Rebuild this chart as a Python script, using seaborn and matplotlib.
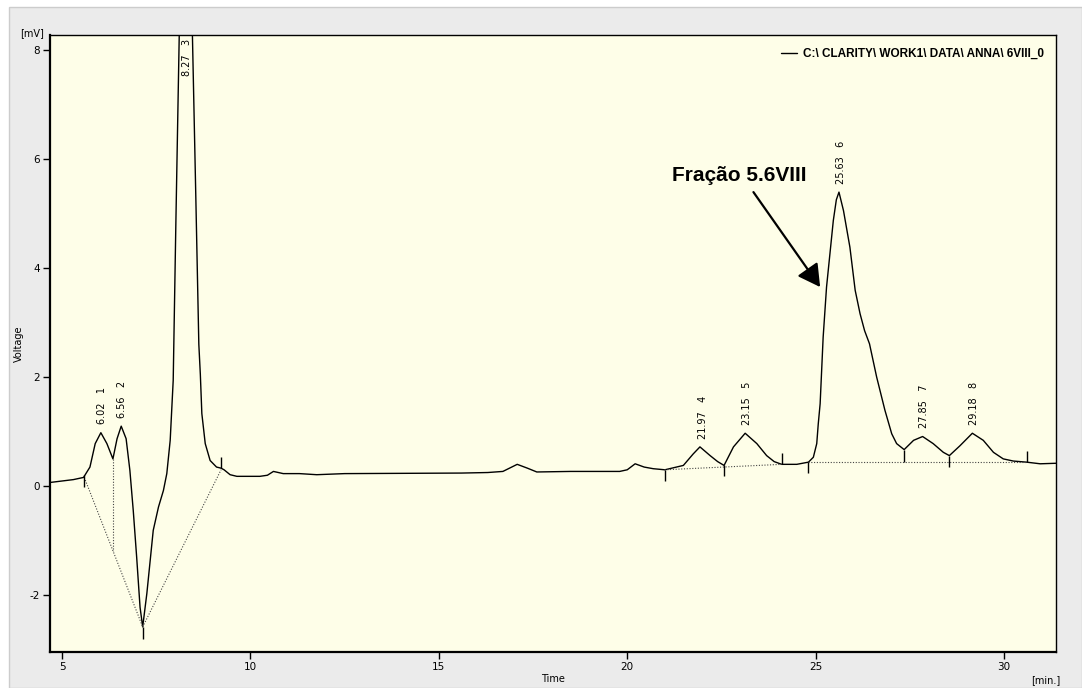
import numpy as np
import pandas as pd
import matplotlib
matplotlib.use("Agg")
import matplotlib.pyplot as plt
import seaborn as sns
from matplotlib.patches import Rectangle

# ---------------- data ----------------
time_min = [4.71, 5.30, 5.57, 5.74, 5.88, 6.03, 6.19, 6.35, 6.46, 6.57, 6.70, 6.80,
            6.89, 6.98, 7.07, 7.14, 7.25, 7.42, 7.56, 7.69, 7.78, 7.87, 7.95, 8.02,
            8.11, 8.27, 8.46, 8.55, 8.63, 8.67, 8.71, 8.80, 8.93, 9.10, 9.22, 9.30,
            9.46, 9.64, 10.25, 10.45, 10.61, 10.87, 11.30, 11.76, 12.50, 15.60,
            16.30, 16.70, 17.08, 17.35, 17.60, 18.50, 19.80, 20.00, 20.21, 20.45,
            20.69, 21.00, 21.49, 21.75, 21.93, 22.20, 22.40, 22.57, 22.82, 23.13,
            23.44, 23.70, 23.90, 24.10, 24.50, 24.81, 24.94, 25.03, 25.07, 25.12, 25.20,
            25.29, 25.38, 25.47, 25.55, 25.62, 25.74, 25.91, 26.05, 26.18, 26.30, 26.43,
            26.62, 26.84, 27.02, 27.15, 27.35, 27.60, 27.84, 28.12, 28.39, 28.55,
            28.83, 29.16, 29.45, 29.72, 29.98, 30.25, 30.60, 30.96, 31.40]
voltage_mv = [0.07, 0.12, 0.16, 0.35, 0.78, 0.98, 0.78, 0.50, 0.87, 1.10, 0.87, 0.29,
              -0.45, -1.30, -2.22, -2.58, -1.97, -0.81, -0.38, -0.08, 0.23, 0.84, 1.94, 4.80,
              8.26, 14.0, 8.26, 5.30, 2.60, 2.05, 1.33, 0.78, 0.47, 0.35, 0.33, 0.30,
              0.21, 0.18, 0.18, 0.20, 0.27, 0.23, 0.23, 0.21, 0.23, 0.24,
              0.25, 0.27, 0.40, 0.33, 0.26, 0.27, 0.27, 0.30, 0.41, 0.35,
              0.32, 0.30, 0.38, 0.59, 0.72, 0.56, 0.45, 0.38, 0.72, 0.97,
              0.78, 0.56, 0.45, 0.40, 0.40, 0.44, 0.53, 0.78, 1.14, 1.51, 2.73,
              3.65, 4.26, 4.87, 5.25, 5.39, 5.05, 4.38, 3.59, 3.16, 2.85, 2.61,
              2.00, 1.39, 0.96, 0.78, 0.67, 0.84, 0.91, 0.78, 0.62, 0.56,
              0.74, 0.97, 0.84, 0.62, 0.50, 0.46, 0.44, 0.41, 0.42]

peak_times = [6.02, 6.56, 8.27, 21.97, 23.15, 25.63, 27.85, 29.18]
peak_ids = [1, 2, 3, 4, 5, 6, 7, 8]
peak_heights = [0.98, 1.10, None, 0.72, 0.97, 5.39, 0.91, 0.97]

# integration baselines (dotted)
base_t0 = [5.59, 7.14, 6.35, 20.99, 24.81]
base_v0 = [0.16, -2.58, 0.50, 0.30, 0.44]
base_t1 = [7.14, 9.22, 6.35, 24.10, 30.60]
base_v1 = [-2.58, 0.30, -1.18, 0.40, 0.44]

# peak boundary markers
mark_t = [5.59, 7.14, 9.22, 20.99, 22.57, 24.10, 24.81, 27.35, 28.55, 30.60]
mark_v0 = [0.20, -2.58, 0.33, 0.30, 0.38, 0.40, 0.44, 0.67, 0.56, 0.44]
mark_v1 = [-0.02, -2.80, 0.53, 0.10, 0.18, 0.61, 0.24, 0.44, 0.35, 0.65]

x_ticks = [5, 10, 15, 20, 25, 30]
y_ticks = [-2, 0, 2, 4, 6, 8]
legend_label = "C:\\ CLARITY\\ WORK1\\ DATA\\ ANNA\\ 6VIII_0"
annot_text = "Fração 5.6VIII"
arrow_tail = (23.35, 5.39)
arrow_tip = (25.12, 3.65)

# ---------------- figure ----------------
sns.set_style("ticks")
plt.rcParams['font.family'] = ['DejaVu Sans']
plt.rcParams['axes.unicode_minus'] = False
plt.rcParams['text.color'] = 'black'
plt.rcParams['axes.labelcolor'] = 'black'
plt.rcParams['xtick.color'] = 'black'
plt.rcParams['ytick.color'] = 'black'

W, H = 1082, 688
fig = plt.figure(figsize=(W / 100, H / 100), dpi=100, facecolor='white')
fig.patches.append(Rectangle((9 / W, 0), 1 - 9 / W, 1 - 7 / H, transform=fig.transFigure,
                             facecolor='#ebebeb', edgecolor='#cccccc', lw=1, zorder=-10))

ax_l, ax_r, ax_t, ax_b = 50, 1056, 35, 652
ax = fig.add_axes([ax_l / W, 1 - ax_b / H, (ax_r - ax_l) / W, (ax_b - ax_t) / H])
ax.set_zorder(1)
ax.set_facecolor('#fefee8')

df = pd.DataFrame({'Time': time_min, 'Voltage': voltage_mv})
sns.lineplot(data=df, x='Time', y='Voltage', sort=False, estimator=None,
             color='black', lw=1.0, ax=ax, label=legend_label)

for a, b, c, d in zip(base_t0, base_v0, base_t1, base_v1):
    ax.plot([a, c], [b, d], ls=(0, (1, 1.5)), color='#444444', lw=0.8)
ax.vlines(mark_t, mark_v0, mark_v1, color='black', lw=1)

ymax = 8.27
for t, pid, h in zip(peak_times, peak_ids, peak_heights):
    txt = f"{t:.2f}   {pid}"
    if h is None:
        ax.annotate(txt, xy=(t, ymax), xytext=(1, -3), textcoords='offset points',
                    rotation=90, ha='center', va='top', fontsize=7)
    else:
        ax.annotate(txt, xy=(t, h), xytext=(1, 6), textcoords='offset points',
                    rotation=90, ha='center', va='bottom', fontsize=7)

ax.text(21.18, 5.69, annot_text, ha='left', va='center', fontsize=15,
        fontweight='bold', color='black', family=['Liberation Sans', 'DejaVu Sans'])
ax.annotate('', xy=arrow_tip, xytext=arrow_tail,
            arrowprops=dict(arrowstyle='-|>,head_length=0.45,head_width=0.25',
                            color='black', lw=1.6, mutation_scale=30,
                            shrinkA=0, shrinkB=0))

ax.set_xlim(4.68, 31.38)
ax.set_ylim(-3.04, ymax)
ax.set_xticks(x_ticks)
ax.set_yticks(y_ticks)
ax.tick_params(axis='both', labelsize=7.5, length=5, width=1, color='black',
               labelcolor='black', pad=2)
for s in ['top', 'right']:
    ax.spines[s].set_linewidth(1.0)
for s in ['left', 'bottom']:
    ax.spines[s].set_linewidth(1.6)
for s in ax.spines.values():
    s.set_color('black')

ax.set_xlabel('Time', fontsize=7, labelpad=2)
ax.set_ylabel('Voltage', fontsize=7, labelpad=4)
fig.text(32 / W, 1 - 33 / H, '[mV]', fontsize=7, ha='center', va='center')
fig.text(1046 / W, 1 - 680 / H, '[min.]', fontsize=7, ha='center', va='center')

leg = ax.legend(loc='upper right', bbox_to_anchor=(1 - 12 / 1006, 1 - 13 / 617),
                frameon=False, borderpad=0, borderaxespad=0, handlelength=1.35,
                handletextpad=0.5,
                prop=dict(family=['Liberation Sans', 'DejaVu Sans'], weight='bold', size=8.5))
for line in leg.get_lines():
    line.set_linewidth(1.0)

fig.savefig('out.png', dpi=100, facecolor=fig.get_facecolor())
